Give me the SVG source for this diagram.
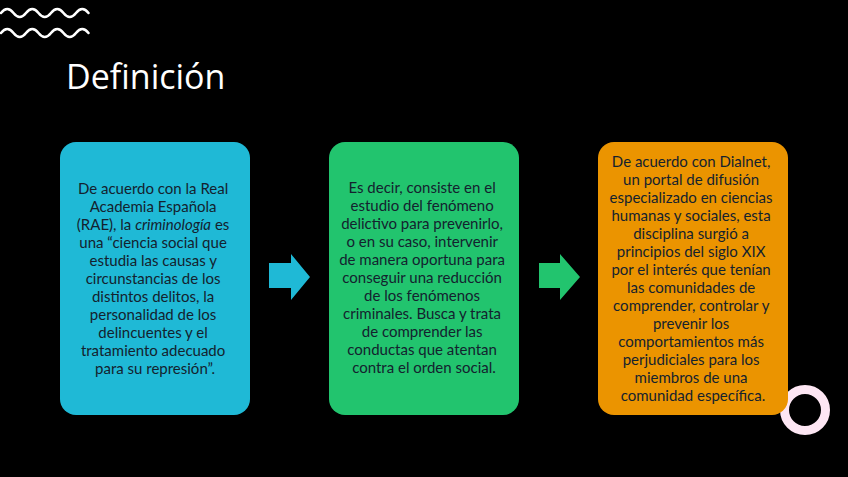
<svg xmlns="http://www.w3.org/2000/svg" width="848" height="477" viewBox="0 0 848 477">
<style>
.box-text{font-family:Lato,"Noto Sans",sans-serif;font-size:15px;fill:#14222e;text-anchor:middle}
.title{font-family:"Open Sans","Noto Sans",sans-serif;font-size:34px;fill:#ffffff}
.wave{fill:none;stroke:#ffffff;stroke-width:2.5;stroke-linecap:round}
</style>
<rect x="0" y="0" width="848" height="477" fill="#000000"/>
<g id="decor">
<path class="wave" d="M1,13 q6.25,-8 12.5,0 t12.5,0 t12.5,0 t12.5,0 t12.5,0 t12.5,0 t12.5,0"/>
<path class="wave" d="M1,33 q6.25,-8 12.5,0 t12.5,0 t12.5,0 t12.5,0 t12.5,0 t12.5,0 t12.5,0"/>
<circle cx="805" cy="410" r="20.5" fill="none" stroke="#fde6f3" stroke-width="9"/>
</g>
<text class="title" x="66" y="89">Definición</text>
<g id="node1">
<rect x="60" y="142" width="190" height="273" rx="16" fill="#1fb9d6"/>
<text class="box-text">
<tspan x="155" y="194">De acuerdo con la Real</tspan>
<tspan x="155" y="212">Academia Española</tspan>
<tspan x="155" y="230">(RAE), la <tspan font-style="italic">criminología</tspan> es</tspan>
<tspan x="155" y="248">una “ciencia social que</tspan>
<tspan x="155" y="266">estudia las causas y</tspan>
<tspan x="155" y="284">circunstancias de los</tspan>
<tspan x="155" y="302">distintos delitos, la</tspan>
<tspan x="155" y="320">personalidad de los</tspan>
<tspan x="155" y="338">delincuentes y el</tspan>
<tspan x="155" y="356">tratamiento adecuado</tspan>
<tspan x="155" y="374">para su represión”.</tspan>
</text>
</g>
<g id="node2">
<rect x="329" y="142" width="190" height="273" rx="16" fill="#22c46e"/>
<text class="box-text">
<tspan x="424" y="193">Es decir, consiste en el</tspan>
<tspan x="424" y="211">estudio del fenómeno</tspan>
<tspan x="424" y="229">delictivo para prevenirlo,</tspan>
<tspan x="424" y="247">o en su caso, intervenir</tspan>
<tspan x="424" y="265">de manera oportuna para</tspan>
<tspan x="424" y="283">conseguir una reducción</tspan>
<tspan x="424" y="301">de los fenómenos</tspan>
<tspan x="424" y="319">criminales. Busca y trata</tspan>
<tspan x="424" y="337">de comprender las</tspan>
<tspan x="424" y="355">conductas que atentan</tspan>
<tspan x="424" y="373">contra el orden social.</tspan>
</text>
</g>
<g id="node3">
<rect x="598" y="142" width="190" height="273" rx="16" fill="#eb9400"/>
<text class="box-text">
<tspan x="693" y="167">De acuerdo con Dialnet,</tspan>
<tspan x="693" y="185">un portal de difusión</tspan>
<tspan x="693" y="203">especializado en ciencias</tspan>
<tspan x="693" y="221">humanas y sociales, esta</tspan>
<tspan x="693" y="239">disciplina surgió a</tspan>
<tspan x="693" y="257">principios del siglo XIX</tspan>
<tspan x="693" y="275">por el interés que tenían</tspan>
<tspan x="693" y="293">las comunidades de</tspan>
<tspan x="693" y="311">comprender, controlar y</tspan>
<tspan x="693" y="329">prevenir los</tspan>
<tspan x="693" y="347">comportamientos más</tspan>
<tspan x="693" y="365">perjudiciales para los</tspan>
<tspan x="693" y="383">miembros de una</tspan>
<tspan x="693" y="401">comunidad específica.</tspan>
</text>
</g>
<g id="connectors">
<polygon points="269,263 291,263 291,254 310,277 291,300 291,288 269,288" fill="#1fb9d6"/>
<polygon points="539,263 560,263 560,254 580,277 560,300 560,288 539,288" fill="#22c46e"/>
</g>
</svg>
